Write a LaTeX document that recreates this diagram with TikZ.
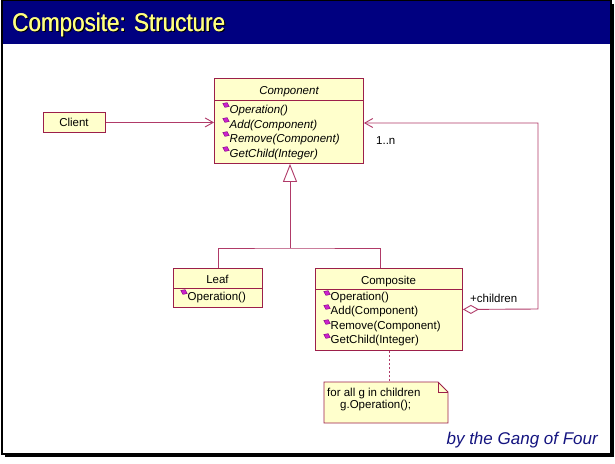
\documentclass[tikz,border=0pt]{standalone}
\usepackage{fontspec}
\setmainfont{Liberation Sans}
\usetikzlibrary{arrows.meta,calc}

\definecolor{navybar}{HTML}{000080}
\definecolor{titleyellow}{HTML}{FFFF80}
\definecolor{boxfill}{HTML}{FFFFCC}
\definecolor{boxline}{HTML}{9C1F4A}
\definecolor{connline}{HTML}{B03A68}
\definecolor{iconfill}{HTML}{CC22CC}
\definecolor{iconline}{HTML}{800080}
\definecolor{byline}{HTML}{141480}

\tikzset{
  classbox/.style={draw=boxline, fill=boxfill, line width=0.9pt, inner sep=0pt, anchor=north west},
  sep/.style={draw=boxline, line width=0.9pt},
  txt/.style={inner sep=0pt, font=\fontsize{11.5}{13}\selectfont},
  itxt/.style={inner sep=0pt, font=\fontsize{11.5}{13}\selectfont\itshape},
  conn/.style={draw=connline, line width=0.9pt},
  noteline/.style={draw=connline, line width=0.9pt, dash pattern=on 2pt off 2pt},
  pics/meth/.style={code={
    \filldraw[fill=iconfill, draw=iconline, line width=0.4pt, rotate=-25]
      (-3.6,0) -- (0,-2.6) -- (3.6,0) -- (0,2.6) -- cycle;}},
}

\begin{document}
\begin{tikzpicture}[x=1pt, y=-1pt]
\useasboundingbox (0,0) rectangle (615,463);

% frame with drop shadow and title bar
\fill[black] (5,4) rectangle (614,457);
\fill[white] (2,0) rectangle (611,454);
\fill[navybar] (2,0) rectangle (611,44);
\draw[black, line width=1.2pt] (2,0) rectangle (611,454);

\node[anchor=base west, inner sep=0pt, text=black] at (13.5,32.5)
  {\fontsize{25.5}{30}\selectfont\scalebox{0.88}[1]{Composite: Structure}};
\node[anchor=base west, inner sep=0pt, text=titleyellow] at (12.4,31)
  {\fontsize{25.5}{30}\selectfont\scalebox{0.88}[1]{Composite: Structure}};
\node[anchor=base west, inner sep=0pt, text=titleyellow] (title) at (12,31)
  {\fontsize{25.5}{30}\selectfont\scalebox{0.88}[1]{Composite: Structure}};

% Component (abstract)
\node[classbox, minimum width=149pt, minimum height=85pt] (comp) at (214,78) {};
\draw[sep] (214,100) -- (363,100);
\node[itxt, anchor=base] (compname) at (289,94) {Component};
\pic at (226,105) {meth};
\node[itxt, anchor=base west] (c1) at (229.5,113) {Operation()};
\pic at (226,120) {meth};
\node[itxt, anchor=base west] (c2) at (229.5,128) {Add(Component)};
\pic at (226,134) {meth};
\node[itxt, anchor=base west] (c3) at (229.5,142) {Remove(Component)};
\pic at (226,149) {meth};
\node[itxt, anchor=base west] (c4) at (229.5,157) {GetChild(Integer)};

% Client
\node[classbox, minimum width=62pt, minimum height=20pt] (client) at (43,112) {};
\node[txt, anchor=base] (clientname) at (74,126) {Client};

% Leaf
\node[classbox, minimum width=89pt, minimum height=39pt] (leaf) at (173,268) {};
\draw[sep] (173,288) -- (262,288);
\node[txt, anchor=base] (leafname) at (217.5,283) {Leaf};
\pic at (184,292) {meth};
\node[txt, anchor=base west] (l1) at (187.5,300) {Operation()};

% Composite
\node[classbox, minimum width=147pt, minimum height=82pt] (composite) at (315,268) {};
\draw[sep] (315,289) -- (462,289);
\node[txt, anchor=base] (compositename) at (388.5,284) {Composite};
\pic at (327,293) {meth};
\node[txt, anchor=base west] (k1) at (330.5,300) {Operation()};
\pic at (327,307) {meth};
\node[txt, anchor=base west] (k2) at (330.5,314) {Add(Component)};
\pic at (327,322) {meth};
\node[txt, anchor=base west] (k3) at (330.5,329) {Remove(Component)};
\pic at (327,336) {meth};
\node[txt, anchor=base west] (k4) at (330.5,343) {GetChild(Integer)};

% Note with folded corner
\node[inner sep=0pt, minimum width=124pt, minimum height=41pt, anchor=north west] (note) at (324,382) {};
\filldraw[fill=boxfill, draw=boxline, line width=0.9pt]
  (324,382) -- (438,382) -- (448,392) -- (448,423) -- (324,423) -- cycle;
\draw[boxline, line width=0.6pt] (438,382) -- (438,392) -- (448,392);
\node[txt, anchor=base west] (n1) at (327,396) {for all g in children};
\node[txt, anchor=base west] (n2) at (340,408) {g.Operation();};

% Client -> Component association
\draw[conn, -{Straight Barb[length=8pt, width=9pt]}] (client.east) -- (client.east -| comp.west);

% Generalization: Leaf and Composite -> Component
\coordinate (tee) at (290,248);
\coordinate (compositetop) at (380,268);
\draw[conn] (leaf.north) |- (tee) -| (compositetop);
\draw[conn, -{Triangle[open, length=18pt, width=14pt, fill=white]}] (tee) -- (comp.south -| tee);

% Aggregation: Composite children
\coordinate (loop) at (538,309);
\draw[conn, {Diamond[open, length=16pt, width=9pt, fill=white]}-{Straight Barb[length=8pt, width=9pt]}]
  (composite.east) -- (loop) |- (comp.east |- 0,123);
\node[txt, anchor=base west] (mult) at (376,144) {1..n};
\node[txt, anchor=base west] (role) at (470,302) {+children};

% Note attachment
\draw[noteline] (composite.south) -- (composite.south |- note.north);

% Credit
\node[anchor=base east, inner sep=0pt, text=byline, font=\fontsize{17}{20}\selectfont\itshape] (credit) at (598,444) {by the Gang of Four};
\end{tikzpicture}
\end{document}
